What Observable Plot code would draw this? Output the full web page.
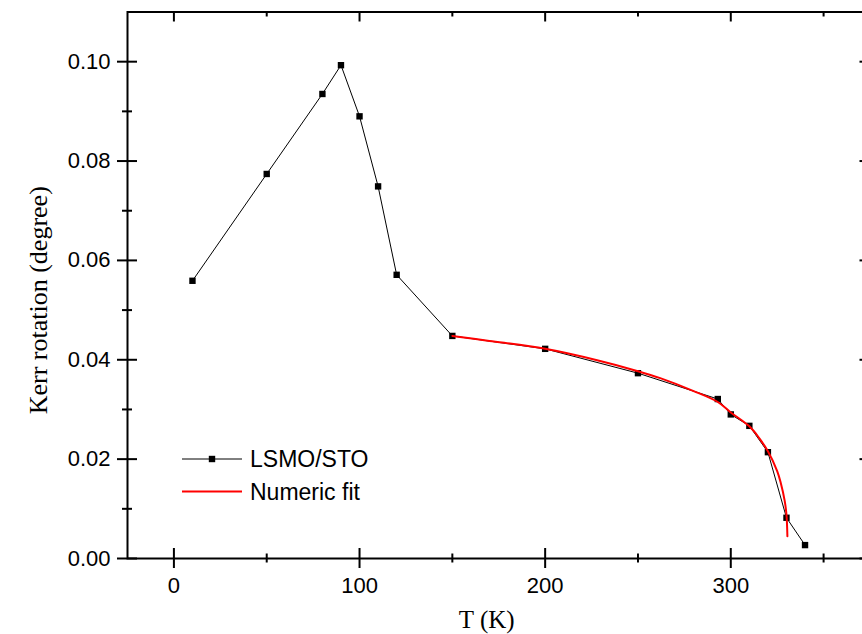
<!DOCTYPE html>
<html><head><meta charset="utf-8">
<script src="https://cdn.jsdelivr.net/npm/d3@7"></script>
<script src="https://cdn.jsdelivr.net/npm/@observablehq/plot@0.6"></script>
<style>
html,body{margin:0;padding:0;background:#fff;overflow:hidden}
#chart{position:relative;width:862px;height:634px;overflow:hidden}
#chart > svg{max-width:none !important}
#legend{position:absolute;left:0;top:0}
</style></head><body>
<div id="chart"></div>
<script>
const temps = [10,50,80,90,100,110,120,150,200,250,293,300,310,320,330,340];
const kerr = [0.0559,0.0774,0.0935,0.0993,0.0890,0.0749,0.0571,0.0448,0.0422,0.0373,0.0321,0.0290,0.0267,0.0214,0.0082,0.0027];
const fitT = [150,170,200,228,250,262,280,293,300,310,315,320,325,327,329,330,330.5];
const fitK = [0.0448,0.0438,0.0422,0.0399,0.0377,0.0363,0.0337,0.0315,0.0294,0.0266,0.0244,0.0216,0.0176,0.0151,0.0117,0.0088,0.0045];
const xMajor = [0,100,200,300];
const xMinor = [50,150,250,350];
const yMajor = [0,0.02,0.04,0.06,0.08,0.10];
const yMinor = [0.01,0.03,0.05,0.07,0.09];
const xLabel = "T (K)";
const yLabel = "Kerr rotation (degree)";
const seriesNames = ["LSMO/STO","Numeric fit"];

const data = temps.map((t,i)=>({t, k:kerr[i]}));
const fit = fitT.map((t,i)=>({t, k:fitK[i]}));
const X0 = -25, X1 = 375, Y0 = 0, Y1 = 0.11;
const sans = "'Liberation Sans', Arial, Helvetica, sans-serif";
const serif = "'Liberation Serif', 'Times New Roman', serif";

const tick = {stroke:"black", strokeWidth:2};
const plot = Plot.plot({
  width: 870, height: 634,
  marginLeft: 127, marginRight: 0.5, marginTop: 11.5, marginBottom: 76,
  style: {fontFamily: sans, fontSize: "22px", background: "white", overflow: "visible", maxWidth: "none"},
  x: {domain: [X0, X1], label: null},
  y: {domain: [Y0, Y1], label: null},
  marks: [
    Plot.ruleX(xMajor, {x: d=>d, y1: Y0, y2: Y0, insetTop: -10, insetBottom: -10, ...tick}),
    Plot.ruleX(xMinor, {x: d=>d, y1: Y0, y2: Y0, insetTop: -4.5, insetBottom: -4.5, ...tick}),
    Plot.ruleX(xMajor, {x: d=>d, y1: Y1, y2: Y1, insetTop: 0, insetBottom: -10, ...tick}),
    Plot.ruleX(xMinor, {x: d=>d, y1: Y1, y2: Y1, insetTop: 0, insetBottom: -5, ...tick}),
    Plot.ruleY(yMajor, {y: d=>d, x1: X0, x2: X0, insetLeft: -10, insetRight: -10, ...tick}),
    Plot.ruleY(yMinor, {y: d=>d, x1: X0, x2: X0, insetLeft: -5, insetRight: -5, ...tick}),
    Plot.ruleY(yMajor, {y: d=>d, x1: X1, x2: X1, insetLeft: -10, insetRight: 0, ...tick}),
    Plot.ruleY(yMinor, {y: d=>d, x1: X1, x2: X1, insetLeft: -5, insetRight: 0, ...tick}),
    Plot.frame({stroke: "black", strokeWidth: 2}),
    Plot.axisX({ticks: xMajor, tickSize: 0, tickPadding: 19, fontSize: 22, fill: "black", label: null}),
    Plot.axisY({ticks: yMajor, tickSize: 0, tickPadding: 17, fontSize: 22, fill: "black", tickFormat: d3.format(".2f"), label: null}),
    Plot.line(data, {x: "t", y: "k", stroke: "black", strokeWidth: 1}),
    Plot.dot(data, {x: "t", y: "k", symbol: "square", r: 3.6, fill: "black", stroke: "none"}),
    Plot.line(fit, {x: "t", y: "k", stroke: "#ff0000", strokeWidth: 2, curve: "catmull-rom"}),
    Plot.text([xLabel], {frameAnchor: "bottom", dx: -12, dy: 61, text: d=>d, fontFamily: serif, fontSize: 25, fill: "black", lineAnchor: "middle", textAnchor: "middle"}),
    Plot.text([yLabel], {frameAnchor: "left", dx: -89, dy: 15, rotate: -90, text: d=>d, fontFamily: serif, fontSize: 26, fill: "black", lineAnchor: "middle", textAnchor: "middle"})
  ]
});
const chart = document.getElementById("chart");
chart.appendChild(plot);

const ns = "http://www.w3.org/2000/svg";
const leg = document.createElementNS(ns, "svg");
leg.setAttribute("id", "legend");
leg.setAttribute("width", 400); leg.setAttribute("height", 80);
leg.style.left = "170px"; leg.style.top = "440px";
const rows = [{name: seriesNames[0], color: "black", w: 1, marker: true}, {name: seriesNames[1], color: "#ff0000", w: 2, marker: false}];
rows.forEach((r, i) => {
  const y = 19 + i * 32.5;
  const ln = document.createElementNS(ns, "line");
  ln.setAttribute("x1", 12); ln.setAttribute("x2", 72);
  ln.setAttribute("y1", y); ln.setAttribute("y2", y);
  ln.setAttribute("stroke", r.color); ln.setAttribute("stroke-width", r.w);
  leg.appendChild(ln);
  if (r.marker) {
    const sq = document.createElementNS(ns, "rect");
    sq.setAttribute("x", 42 - 3.2); sq.setAttribute("y", y - 3.2);
    sq.setAttribute("width", 6.4); sq.setAttribute("height", 6.4);
    sq.setAttribute("fill", "black");
    leg.appendChild(sq);
  }
  const tx = document.createElementNS(ns, "text");
  tx.setAttribute("x", 80); tx.setAttribute("y", y);
  tx.setAttribute("dy", "0.36em");
  tx.setAttribute("font-family", sans); tx.setAttribute("font-size", 23);
  tx.setAttribute("fill", "black");
  tx.textContent = r.name;
  leg.appendChild(tx);
});
chart.appendChild(leg);
</script>
</body></html>
